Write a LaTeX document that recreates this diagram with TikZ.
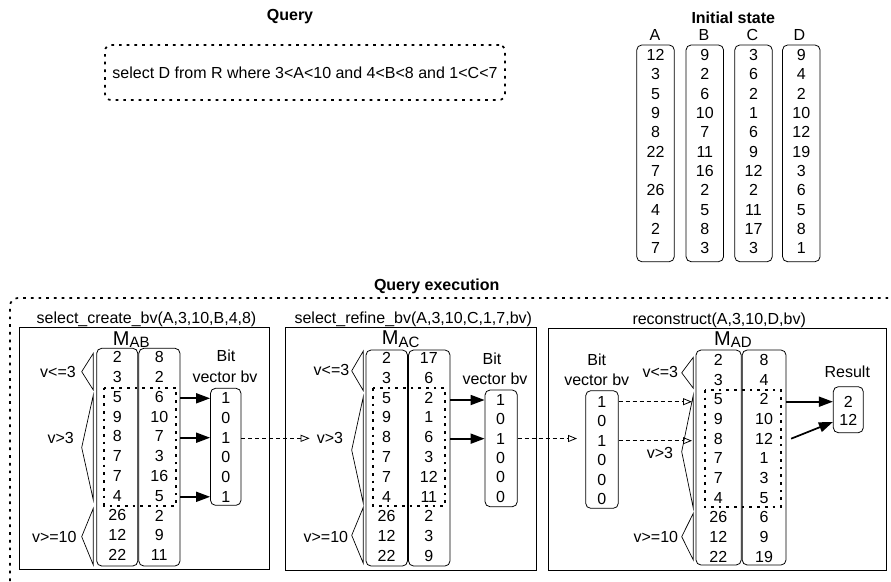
\documentclass[tikz,border=0pt]{standalone}
\usepackage{fontspec}
\setmainfont{Liberation Sans}
\usetikzlibrary{arrows.meta}
\newcommand{\mybrk}[4]{\draw[brk] (#1,#3) -- (#2,{(#3+#4)/2}) -- (#1,#4) -- cycle;}
\newcommand{\colvals}[5]{\foreach \v [count=\i] in {#5} \node[txt] (#1\i) at (#2,{#3+(\i-1)*#4}) {\v};}
\begin{document}
\begin{tikzpicture}[x=1pt,y=-1pt,
  txt/.style={inner sep=0pt, font=\fontsize{16}{19}\selectfont},
  btxt/.style={inner sep=0pt, font=\fontsize{16}{19}\selectfont\bfseries},
  col/.style={draw, rounded corners=5pt, line width=0.8pt, inner sep=0pt},
  panel/.style={draw, line width=0.8pt, inner sep=0pt},
  dots/.style={line width=1.7pt, dash pattern=on 2.7pt off 5pt},
  brk/.style={line width=0.7pt},
  solidarr/.style={line width=1.7pt, -{Triangle[length=14pt,width=10pt]}},
  dasharr/.style={line width=0.8pt, dash pattern=on 4pt off 3pt, -{Triangle[open,length=9pt,width=7pt]}},
  mlab/.style={anchor=base west, inner sep=0pt},
]
\useasboundingbox (0,0) rectangle (891,581);

% ---------- Query ----------
\node[btxt] (qtitle) at (290,17) {Query};
\node[draw, dots, rounded corners=6pt, minimum width=400pt, minimum height=55pt, txt] (query) at (305,72.5)
  {select D from R where 3<A<10 and 4<B<8 and 1<C<7};

% ---------- Initial state ----------
\node[btxt] (istitle) at (733.3,18) {Initial state};
\node[txt] (hA) at (655,35) {A};
\node[txt] (hB) at (704,35) {B};
\node[txt] (hC) at (752.5,35) {C};
\node[txt] (hD) at (799.5,35) {D};
\node[col, minimum width=37.5pt, minimum height=216.7pt] (cA) at (655.5,153.35) {};
\node[col, minimum width=37.5pt, minimum height=216.7pt] (cB) at (704.8,153.35) {};
\node[col, minimum width=37.5pt, minimum height=216.7pt] (cC) at (753.5,153.35) {};
\node[col, minimum width=37.5pt, minimum height=216.7pt] (cD) at (801.3,153.35) {};
\colvals{iA}{655.5}{55}{19.33}{12,3,5,9,8,22,7,26,4,2,7}
\colvals{iB}{704.8}{55}{19.33}{9,2,6,10,7,11,16,2,5,8,3}
\colvals{iC}{753.5}{55}{19.33}{3,6,2,1,6,9,12,2,11,17,3}
\colvals{iD}{801.3}{55}{19.33}{9,4,2,10,12,19,3,6,5,8,1}

% ---------- Query execution frame ----------
\node[btxt] (qetitle) at (436.7,286.7) {Query execution};
\draw[dots, rounded corners=8pt] (10,581) -- (10,298) -- (889,298);

% ---------- Panel 1 ----------
\node[txt] (t1) at (146.5,319.3) {select\_create\_bv(A,3,10,B,4,8)};
\node[panel, minimum width=250pt, minimum height=242pt] (pan1) at (144.3,448.3) {};
\node[mlab] (m1) at (112.7,345) {\fontsize{20}{20}\selectfont M\raisebox{-2.5pt}{\fontsize{15}{15}\selectfont AB}};
\node[col, minimum width=41.1pt, minimum height=217.7pt] (p1A) at (117.25,457.15) {};
\node[col, minimum width=41.2pt, minimum height=217.7pt] (p1B) at (159.4,457.15) {};
\colvals{p1a}{117.3}{357.3}{19.77}{2,3,5,9,8,7,7,4,26,12,22}
\colvals{p1b}{159.3}{357.3}{19.77}{8,2,6,10,7,3,16,5,2,9,11}
\draw[dots] (104.3,387.7) rectangle (176,505.7);
\mybrk{93.3}{81.7}{353.3}{390}
\mybrk{93.3}{81.7}{395}{500}
\mybrk{93.3}{81.7}{508.3}{565}
\node[txt, anchor=east] (p1l1) at (76,371.7) {v<=3};
\node[txt, anchor=east] (p1l2) at (74,438.3) {v>3};
\node[txt, anchor=east] (p1l3) at (76.7,536.7) {v>=10};
\node[txt] (p1bit) at (226,355.5) {Bit};
\node[txt] (p1vec) at (225,376.7) {vector bv};
\node[col, minimum width=30.5pt, minimum height=117pt] (p1bv) at (225.75,446.8) {};
\colvals{p1v}{225.7}{398.3}{19.7}{1,0,1,0,0,1}
\draw[solidarr] (p1B.east |- p1v1) -- (p1bv.west |- p1v1);
\draw[solidarr] (p1B.east |- p1v3) -- (p1bv.west |- p1v3);
\draw[solidarr] (p1B.east |- p1v6) -- (p1bv.west |- p1v6);

% ---------- Panel 2 ----------
\node[txt] (t2) at (413.3,319.3) {select\_refine\_bv(A,3,10,C,1,7,bv)};
\node[panel, minimum width=251pt, minimum height=242.7pt] (pan2) at (410.5,448.65) {};
\node[mlab] (m2) at (381.7,344.5) {\fontsize{20}{20}\selectfont M\raisebox{-2.5pt}{\fontsize{15}{15}\selectfont AC}};
\node[col, minimum width=41.5pt, minimum height=216pt] (p2A) at (386.75,458) {};
\node[col, minimum width=41.5pt, minimum height=216pt] (p2B) at (429.25,458) {};
\colvals{p2a}{386.5}{358}{19.8}{2,3,5,9,8,7,7,4,26,12,22}
\colvals{p2b}{428.8}{358}{19.8}{17,6,2,1,6,3,12,11,2,3,9}
\draw[dots] (373.3,388.3) rectangle (445,506);
\mybrk{363.3}{351.7}{351}{390.7}
\mybrk{363.3}{351.7}{396.7}{503.3}
\mybrk{363.3}{351.7}{507.3}{563.3}
\node[txt, anchor=east] (p2l1) at (349.5,370) {v<=3};
\node[txt, anchor=east] (p2l2) at (343.3,438.3) {v>3};
\node[txt, anchor=east] (p2l3) at (348.3,536.7) {v>=10};
\node[txt] (p2bit) at (492,358.3) {Bit};
\node[txt] (p2vec) at (495,378.3) {vector bv};
\node[col, minimum width=32.3pt, minimum height=116.7pt] (p2bv) at (501.15,448.35) {};
\colvals{p2v}{500.5}{400}{19.33}{1,0,1,0,0,0}
\draw[solidarr] (p2B.east |- p2v1) -- (p2bv.west |- p2v1);
\draw[solidarr] (p2B.east |- p2v3) -- (p2bv.west |- p2v3);
\draw[dasharr, shorten >=7pt] (p1bv.east |- p2l2.west) -- (p2l2.west);

% ---------- Panel 3 ----------
\node[txt] (t3) at (719.2,320) {reconstruct(A,3,10,D,bv)};
\node[panel, minimum width=338pt, minimum height=242pt] (pan3) at (717.3,449.5) {};
\node[mlab] (m3) at (714,345) {\fontsize{20}{20}\selectfont M\raisebox{-2.5pt}{\fontsize{15}{15}\selectfont AD}};
\node[col, minimum width=45.2pt, minimum height=215pt] (p3A) at (718.6,457.5) {};
\node[col, minimum width=43.8pt, minimum height=215pt] (p3B) at (764.1,457.5) {};
\colvals{p3a}{718.3}{360}{19.67}{2,3,5,9,8,7,7,4,26,12,22}
\colvals{p3b}{764}{360}{19.67}{8,4,2,10,12,1,3,5,6,9,19}
\draw[dots] (705,390) rectangle (780.7,507.3);
\mybrk{693.3}{681.7}{357.3}{388.3}
\mybrk{693.3}{681.7}{395}{508.3}
\mybrk{693.3}{681.7}{513.3}{560}
\node[txt, anchor=east] (p3l1) at (678.3,371.7) {v<=3};
\node[txt, anchor=east] (p3l2) at (673.3,453.3) {v>3};
\node[txt, anchor=east] (p3l3) at (678.3,536.7) {v>=10};
\node[txt] (p3bit) at (596.7,359.3) {Bit};
\node[txt] (p3vec) at (596.7,380) {vector bv};
\node[col, minimum width=32.6pt, minimum height=117.6pt] (p3bv) at (602,449.5) {};
\colvals{p3v}{601.7}{401.7}{19.5}{1,0,1,0,0,0}
\coordinate (p3in) at (577,438.5);
\draw[dasharr] (p2bv.east |- p3in) -- (p3in);
\coordinate (p3vx) at (692,450);
\draw[dasharr] (p3bv.east |- p3v1) -- (p3vx |- p3v1);
\draw[dasharr] (p3bv.east |- p3v3) -- (p3vx |- p3v3);
\node[txt] (restitle) at (847.3,371.7) {Result};
\node[col, minimum width=30pt, minimum height=46pt] (res) at (848.3,409.7) {};
\node[txt] (r1) at (848.3,401.7) {2};
\node[txt] (r2) at (848.3,420) {12};
\draw[solidarr] (p3B.east |- r1) -- (res.west |- r1);
\draw[solidarr] ([xshift=4.7pt]p3B.east |- p3b5) -- ([yshift=-2pt]res.west |- r2);

\end{tikzpicture}
\end{document}
